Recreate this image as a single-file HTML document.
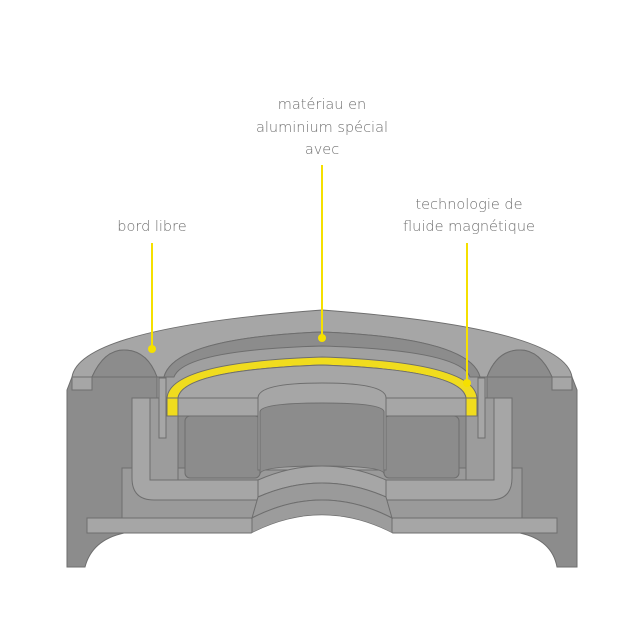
<!DOCTYPE html><html><head><style>body{margin:0;background:#fff}svg{display:block}text{font-family:"DejaVu Sans","Liberation Sans",sans-serif;font-size:14.5px;fill:#707070;font-weight:200;text-anchor:middle}</style></head><body>
<svg width="644" height="644" viewBox="0 0 644 644" stroke="#6e6e6e" stroke-width="1">
<text x="322" y="109" stroke="none">matériau en</text>
<text x="322" y="132" stroke="none">aluminium spécial</text>
<text x="322" y="154" stroke="none">avec</text>
<text x="152" y="231" stroke="none">bord libre</text>
<text x="469" y="209" stroke="none">technologie de</text>
<text x="469" y="231" stroke="none">fluide magnétique</text>
<path d="M67,390 L72,377 L572,377 L577,390 L577,567 L557,567 Q552,540 520,533 L124,533 Q92,540 85,567 L67,567 Z" fill="#8c8c8c"/>
<path d="M122,468 L522,468 L522,518 L122,518 Z" fill="#9a9a9a"/>
<path d="M87,518 L557,518 L557,533 L87,533 Z" fill="#a6a6a6"/>
<path d="M157,398 L157,377 Q170,340 322,336 Q474,340 487,377 L487,398 Z" fill="#a0a0a0"/>
<path d="M72,377 Q80,328 322,310 Q564,328 572,377 L552,377 Q540,350 520,350 Q497,350 487,377 L480,377 Q470,338 322,332 Q174,338 164,377 L157,377 Q147,350 124,350 Q104,350 92,377 Z" fill="#a6a6a6"/>
<path d="M92,377 Q104,350 124,350 Q147,350 157,377 Z M487,377 Q497,350 520,350 Q540,350 552,377 Z" fill="#8c8c8c"/>
<path d="M72,377 L92,377 L92,390 L72,390 Z M552,377 L572,377 L572,390 L552,390 Z" fill="#a6a6a6"/>
<path d="M164,377 Q174,338 322,332 Q470,338 480,377 L470,377 Q460,350 322,346 Q184,350 174,377 Z" fill="#8c8c8c"/>
<path d="M132,398 L150,398 L150,470 Q150,480 160,480 L484,480 Q494,480 494,470 L494,398 L512,398 L512,478 Q512,500 490,500 L154,500 Q132,500 132,478 Z" fill="#a6a6a6"/>
<path d="M150,398 L178,398 L178,480 L150,480 Z M466,398 L494,398 L494,480 L466,480 Z" fill="#9c9c9c"/>
<rect x="159" y="378" width="7" height="60" fill="#a6a6a6"/>
<rect x="478" y="378" width="7" height="60" fill="#a6a6a6"/>
<path d="M167,398 Q170,362 322,357 Q474,362 477,398 L466,398 Q462,370 322,365 Q182,370 178,398 Z" fill="#f0dc1e"/>
<path d="M178,398 Q182,370 322,365 Q462,370 466,398 Z" fill="#a6a6a6"/>
<rect x="167" y="398" width="11" height="18" fill="#f0dc1e"/>
<rect x="466" y="398" width="11" height="18" fill="#f0dc1e"/>
<rect x="178" y="398" width="288" height="18" fill="#a6a6a6"/>
<rect x="185" y="416" width="75" height="62" rx="5" fill="#8c8c8c"/>
<rect x="384" y="416" width="75" height="62" rx="5" fill="#8c8c8c"/>
<path d="M258,398 L258,470 L386,470 L386,398 Q386,383 322,383 Q258,383 258,398 Z" fill="#a6a6a6"/>
<path d="M260,412 Q260,403 322,403 Q384,403 384,412 L384,474 Q384,466 322,466 Q260,466 260,474 Z" fill="#8c8c8c"/>
<path d="M258,480 Q322,452 386,480 L386,497 Q322,469 258,497 Z" fill="#a6a6a6"/>
<path d="M258,497 Q322,469 386,497 L392,518 Q322,482 252,518 Z" fill="#9a9a9a"/>
<path d="M252,518 Q322,482 392,518 L392,533 Q322,497 252,533 Z" fill="#9c9c9c"/>
<path d="M251,533.5 Q322,497 393,533.5 Z" fill="#fff" stroke="none"/>
<g stroke="#f5e000" stroke-width="2" fill="#f5e000">
<line x1="152" y1="243" x2="152" y2="349"/><circle cx="152" cy="349" r="4" stroke="none"/>
<line x1="322" y1="165" x2="322" y2="338"/><circle cx="322" cy="338" r="4" stroke="none"/>
<line x1="467" y1="243" x2="467" y2="383"/><circle cx="467" cy="383" r="4" stroke="none"/>
</g>
</svg></body></html>
